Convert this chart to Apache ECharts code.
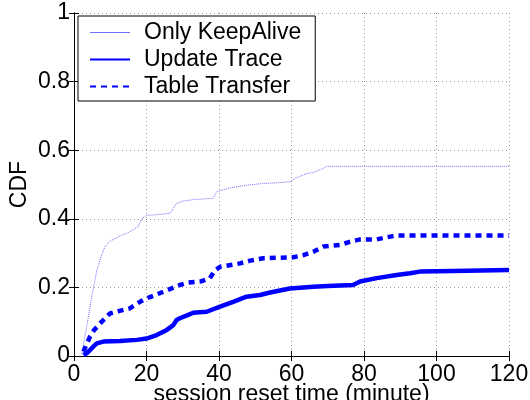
<!DOCTYPE html>
<html>
<head>
<meta charset="utf-8">
<script src="https://cdn.jsdelivr.net/npm/echarts@6/dist/echarts.min.js"></script>
<style>html,body{margin:0;padding:0;background:#fff}#c{width:530px;height:400px}</style>
</head>
<body>
<div id="c"></div>
<script>
const seriesNames = ['Only KeepAlive', 'Update Trace', 'Table Transfer'];
const xTicks = [0, 20, 40, 60, 80, 100, 120];
const yTicks = [0, 0.2, 0.4, 0.6, 0.8, 1];

const keepAliveX = [2.1, 3.5, 4.9, 6.3, 7.6, 8.6, 10, 12.7, 15, 17.7, 18.7, 20, 23, 26.5, 28.3, 30.2, 33, 36, 38.4, 39.4, 43, 47.6, 52, 56, 59.6, 61, 64.2, 66, 68.8, 69.7, 120];
const keepAliveY = [0.005, 0.085, 0.173, 0.25, 0.294, 0.32, 0.335, 0.35, 0.36, 0.377, 0.40, 0.41, 0.412, 0.416, 0.445, 0.452, 0.456, 0.458, 0.46, 0.479, 0.49, 0.498, 0.503, 0.505, 0.508, 0.518, 0.532, 0.535, 0.547, 0.553, 0.553];

const updateX = [2.6, 3.5, 4.4, 5.3, 6.3, 8.1, 12.7, 17.3, 20, 22.8, 25.6, 27.4, 28.3, 29.2, 31.5, 32.9, 36.6, 40.3, 43.9, 47.6, 51.3, 54.1, 59.6, 66, 70, 77, 78.9, 83.5, 89, 92.7, 95.4, 104.6, 120];
const updateY = [0.003, 0.008, 0.017, 0.027, 0.037, 0.042, 0.044, 0.047, 0.051, 0.061, 0.076, 0.09, 0.105, 0.11, 0.12, 0.126, 0.129, 0.144, 0.158, 0.173, 0.178, 0.185, 0.197, 0.202, 0.204, 0.207, 0.217, 0.227, 0.236, 0.241, 0.246, 0.248, 0.251];

const tableX = [2.6, 3.5, 4.4, 5.5, 7.2, 9.9, 12, 15.4, 18.2, 20, 24.6, 29.2, 31.5, 34.8, 37.5, 38.9, 40.3, 45.8, 48.6, 52.2, 60.5, 63.3, 66, 68.8, 73.4, 76.1, 78.9, 83.5, 87.2, 89, 120];
const tableY = [0.013, 0.035, 0.056, 0.075, 0.095, 0.124, 0.13, 0.139, 0.158, 0.168, 0.187, 0.207, 0.214, 0.217, 0.227, 0.25, 0.26, 0.27, 0.278, 0.285, 0.288, 0.294, 0.304, 0.319, 0.324, 0.333, 0.34, 0.34, 0.348, 0.351, 0.351];

const pairs = (xs, ys) => xs.map((x, i) => [x, ys[i]]);
const FONT = 'Liberation Sans';
const KA_COLOR = '#6e6eff';
const BLUE = '#0000ff';

const chart = echarts.init(document.getElementById('c'), null, {renderer: 'canvas'});
const baseAxisLabel = {color: '#000', fontFamily: FONT, fontSize: 23};
chart.setOption({
  animation: false,
  backgroundColor: '#fff',
  grid: {left: 74, right: 21, top: 13, bottom: 44, containLabel: false, outerBoundsMode: 'none'},
  legend: {
    orient: 'vertical', left: 78, top: 16,
    data: [
      {name: seriesNames[0], lineStyle: {type: 'solid', width: 1}},
      {name: seriesNames[1]},
      {name: seriesNames[2]}
    ],
    backgroundColor: '#fff', borderColor: '#000', borderWidth: 1,
    padding: [5, 14, 3, 11],
    itemWidth: 40, itemHeight: 14, itemGap: 4,
    itemStyle: {opacity: 0},
    textStyle: {color: '#000', fontFamily: FONT, fontSize: 23, lineHeight: 23, padding: [0, 0, 0, 9]}
  },
  xAxis: [{
    type: 'value', min: 0, max: 120, interval: 20,
    name: 'session reset time (minute)', nameLocation: 'middle', nameGap: 27, nameMoveOverlap: false,
    nameTextStyle: {color: '#000', fontFamily: FONT, fontSize: 23},
    axisLine: {lineStyle: {color: '#000', width: 1}},
    axisTick: {inside: true, length: 5, lineStyle: {color: '#000'}},
    axisLabel: Object.assign({margin: 7, formatter: v => xTicks.includes(v) ? String(v) : ''}, baseAxisLabel),
    splitLine: {show: true, lineStyle: {color: '#999', type: [1, 3], width: 1}}
  }, {
    type: 'value', min: 0, max: 120, interval: 20, position: 'top',
    axisLine: {show: true, lineStyle: {color: '#000', width: 1}},
    axisTick: {show: true, inside: true, length: 5, lineStyle: {color: '#000'}},
    axisLabel: {show: false}, splitLine: {show: false}
  }],
  yAxis: [{
    type: 'value', min: 0, max: 1, interval: 0.2,
    name: 'CDF', nameLocation: 'middle', nameGap: 43, nameMoveOverlap: false,
    nameTextStyle: {color: '#000', fontFamily: FONT, fontSize: 23},
    axisLine: {show: true, lineStyle: {color: '#000', width: 1}},
    axisTick: {show: true, inside: true, length: 5, lineStyle: {color: '#000'}},
    axisLabel: Object.assign({margin: 4, formatter: v => String(+v.toFixed(1))}, baseAxisLabel),
    splitLine: {show: true, lineStyle: {color: '#999', type: [1, 3], width: 1}}
  }, {
    type: 'value', min: 0, max: 1, interval: 0.2, position: 'right',
    axisLine: {show: true, lineStyle: {color: '#000', width: 1}},
    axisTick: {show: true, inside: true, length: 5, lineStyle: {color: '#000'}},
    axisLabel: {show: false}, splitLine: {show: false}
  }],
  series: [{
    name: seriesNames[0], type: 'line', symbol: 'none', xAxisIndex: 0, yAxisIndex: 0,
    data: pairs(keepAliveX, keepAliveY),
    lineStyle: {color: KA_COLOR, width: 1, type: [1, 1]},
    itemStyle: {color: KA_COLOR}
  }, {
    name: seriesNames[1], type: 'line', symbol: 'none',
    data: pairs(updateX, updateY),
    lineStyle: {color: BLUE, width: 4.5, type: 'solid'},
    itemStyle: {color: BLUE}
  }, {
    name: seriesNames[2], type: 'line', symbol: 'none',
    data: pairs(tableX, tableY),
    lineStyle: {color: BLUE, width: 4.5, type: [6, 5]},
    itemStyle: {color: BLUE}
  }]
});
</script>
</body>
</html>
